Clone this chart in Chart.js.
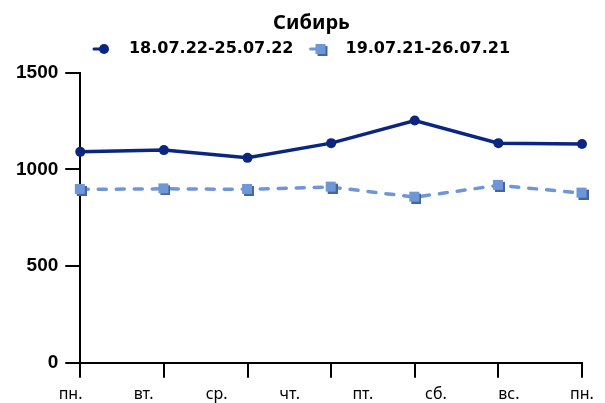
<!DOCTYPE html>
<html>
<head>
<meta charset="utf-8">
<script src="https://cdn.jsdelivr.net/npm/chart.js@4/dist/chart.umd.min.js"></script>
<style>
  html, body { margin: 0; padding: 0; background: #fff; }
  #wrap { width: 605px; height: 403px; }
</style>
</head>
<body>
<div id="wrap"><canvas id="c" width="605" height="403"></canvas></div>
<script>
// ---- data ----
const chartTitle = 'Сибирь';
const dayLabels = ['пн.', 'вт.', 'ср.', 'чт.', 'пт.', 'сб.', 'вс.', 'пн.'];
const pointDays = ['пн.', 'вт.', 'ср.', 'чт.', 'пт.', 'сб.', 'вс.'];
const series2022Label = '18.07.22-25.07.22';
const series2022 = [1090, 1099, 1059, 1135, 1252, 1135, 1131];
const series2021Label = '19.07.21-26.07.21';
const series2021 = [896, 899, 896, 908, 856, 917, 877];
const yTicks = [0, 500, 1000, 1500];

// ---- styles ----
const navy = '#0a2680';
const lightBlue = '#6f97d8';
const shadowBlue = '#46659f';

function makeCanvas(w, h, draw) {
  const c = document.createElement('canvas');
  c.width = w; c.height = h;
  draw(c.getContext('2d'));
  return c;
}
const squarePoint = makeCanvas(13, 13, ctx => {
  ctx.fillStyle = shadowBlue; ctx.fillRect(3, 3, 10, 10);
  ctx.fillStyle = lightBlue; ctx.fillRect(1, 1, 10, 10);
});
const legendIcon1 = makeCanvas(40, 16, ctx => {
  ctx.strokeStyle = navy; ctx.lineWidth = 3; ctx.lineCap = 'round';
  ctx.beginPath(); ctx.moveTo(13, 8); ctx.lineTo(23, 8); ctx.stroke();
  ctx.fillStyle = navy; ctx.beginPath(); ctx.arc(23, 8, 5, 0, Math.PI * 2); ctx.fill();
});
const legendIcon2 = makeCanvas(40, 16, ctx => {
  ctx.strokeStyle = lightBlue; ctx.lineWidth = 3; ctx.lineCap = 'round';
  ctx.beginPath(); ctx.moveTo(13, 8); ctx.lineTo(20, 8); ctx.stroke();
  ctx.fillStyle = shadowBlue; ctx.fillRect(20, 5, 10, 10);
  ctx.fillStyle = lightBlue; ctx.fillRect(18, 3, 10, 10);
});
const legendIcons = [legendIcon1, legendIcon2];

// adds a little space below the legend, and nudges the title to the right
const layoutTweaks = {
  id: 'layoutTweaks',
  beforeLayout(chart) {
    const lg = chart.legend;
    if (lg && !lg.__spaced) {
      const orig = lg.fit;
      lg.fit = function () { orig.call(this); this.height += 5.5; };
      lg.__spaced = true;
    }
  },
  afterLayout(chart) {
    const t = chart.titleBlock;
    if (t) { t.left += 16; t.right += 16; }
  }
};

const axisFontBold = { family: "'Liberation Sans', Arial, Helvetica, sans-serif", weight: 'bold', size: 19 };

new Chart(document.getElementById('c'), {
  type: 'line',
  data: {
    labels: pointDays,
    datasets: [
      {
        label: series2022Label,
        data: series2022,
        borderColor: navy,
        backgroundColor: navy,
        borderWidth: 3.5,
        pointStyle: 'circle',
        pointRadius: 5,
        pointBackgroundColor: navy,
        pointBorderColor: navy,
        pointBorderWidth: 0,
        tension: 0,
        clip: false
      },
      {
        label: series2021Label,
        data: series2021,
        borderColor: lightBlue,
        backgroundColor: lightBlue,
        borderWidth: 3.5,
        borderDash: [8, 10],
        borderCapStyle: 'round',
        pointStyle: squarePoint,
        tension: 0,
        clip: false
      }
    ]
  },
  options: {
    responsive: false,
    animation: false,
    devicePixelRatio: 1,
    layout: { padding: { left: 9, right: 23, top: 5, bottom: -8 } },
    plugins: {
      title: {
        display: true,
        text: chartTitle,
        color: '#000',
        font: { family: "'Noto Sans', 'Open Sans', sans-serif", weight: 'bold', size: 20 },
        padding: { top: 6, bottom: 2 }
      },
      legend: {
        display: true,
        position: 'top',
        labels: {
          usePointStyle: true,
          pointStyleWidth: 40,
          padding: 4,
          color: '#000',
          font: { family: "'DejaVu Sans', sans-serif", weight: 'bold', size: 16 },
          generateLabels(chart) {
            const items = Chart.defaults.plugins.legend.labels.generateLabels(chart);
            items.forEach((it, i) => { it.pointStyle = legendIcons[i]; });
            return items;
          }
        }
      },
      tooltip: { enabled: false }
    },
    scales: {
      x: {
        type: 'category',
        offset: false,
        position: 'bottom',
        grid: { drawOnChartArea: false, drawTicks: true, tickLength: 15, color: '#000', lineWidth: 2 },
        border: { display: true, color: '#000', width: 2 },
        ticks: { display: false }
      },
      xDays: {
        type: 'linear',
        position: 'bottom',
        bounds: 'data',
        min: 0.133,
        max: 7.0,
        afterBuildTicks(scale) {
          scale.ticks = dayLabels.map((_, i) => ({ value: i }));
        },
        grid: { display: false, drawTicks: false, tickLength: 0 },
        border: { display: false },
        ticks: {
          autoSkip: false,
          maxRotation: 0,
          minRotation: 0,
          padding: 7,
          color: '#000',
          font: { family: "'Noto Sans', 'Open Sans', sans-serif", size: 16 },
          callback: (v) => dayLabels[v] !== undefined ? dayLabels[v] : ''
        }
      },
      y: {
        type: 'linear',
        min: yTicks[0],
        max: yTicks[yTicks.length - 1],
        afterBuildTicks(scale) {
          scale.ticks = yTicks.map(v => ({ value: v }));
        },
        grid: { drawOnChartArea: false, drawTicks: true, tickLength: 15, color: '#000', lineWidth: 2 },
        border: { display: true, color: '#000', width: 2 },
        ticks: { padding: 7, color: '#000', font: axisFontBold, callback: (v) => String(v) }
      }
    }
  },
  plugins: [layoutTweaks]
});
</script>
</body>
</html>
